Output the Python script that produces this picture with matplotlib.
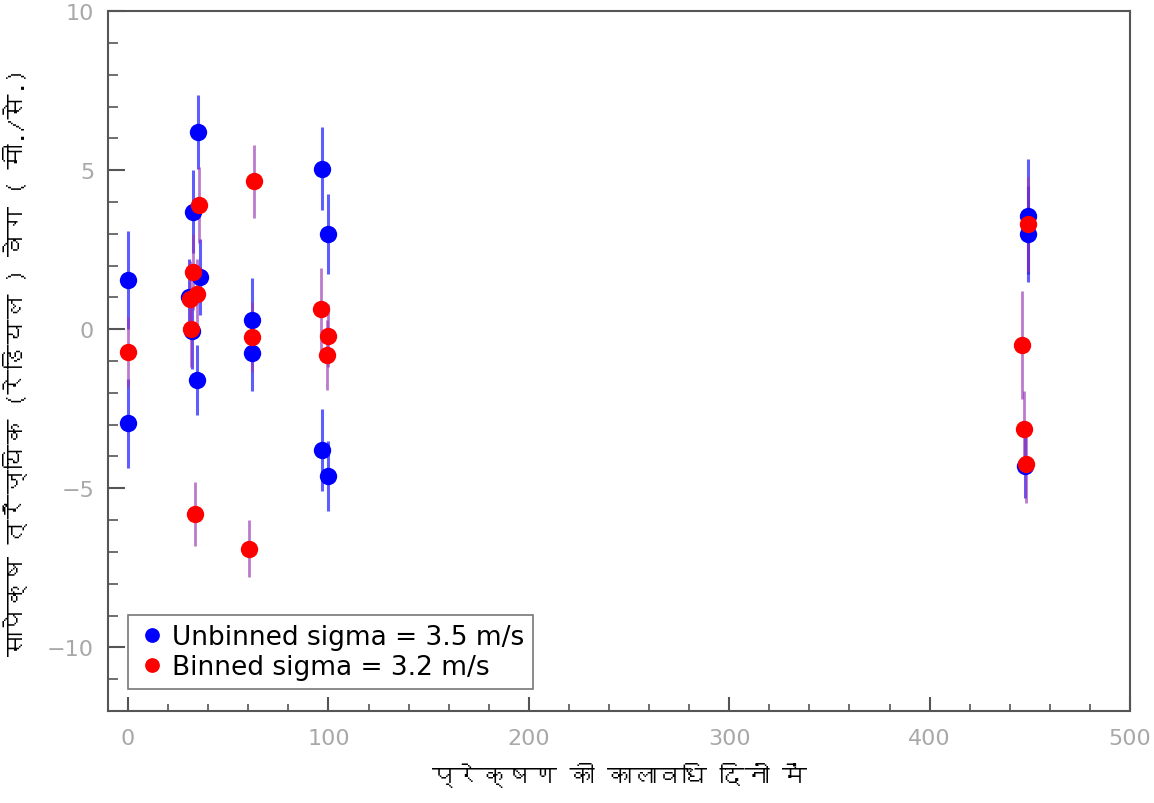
import numpy as np
import matplotlib
matplotlib.use('Agg')
from matplotlib import pyplot as plt
from matplotlib import font_manager
from matplotlib.ft2font import FT2Font

# Datos: sin agrupar (azul)
x_unbinned = [0, 0, 35, 32.5, 36, 30.5, 32, 34.5, 62, 62, 97, 100, 97, 100, 449, 449, 447.5]
y_unbinned = [1.55, -2.95, 6.2, 3.7, 1.65, 1.0, -0.05, -1.6, 0.3, -0.75, 5.05, 3.0, -3.8, -4.6, 3.55, 3.0, -4.3]
e_unbinned = [1.55, 1.4, 1.15, 1.3, 1.2, 1.2, 1.2, 1.1, 1.3, 1.2, 1.3, 1.25, 1.3, 1.1, 1.8, 1.5, 1.0]

# Datos agrupados (rojo)
x_binned = [0, 32.5, 31, 34.5, 31.5, 35.5, 33.5, 63, 62, 60.5, 96.5, 100, 99.5, 446, 447, 448, 449]
y_binned = [-0.72, 1.8, 0.95, 1.1, 0.0, 3.9, -5.8, 4.65, -0.25, -6.9, 0.62, -0.2, -0.8, -0.5, -3.15, -4.25, 3.3]
e_binned = [1.1, 1.2, 1.2, 1.1, 1.2, 1.2, 1.0, 1.15, 1.1, 0.9, 1.3, 1.0, 1.1, 1.7, 1.2, 1.2, 1.5]

label_unbinned = 'Unbinned sigma = 3.5 m/s'
label_binned = 'Binned sigma = 3.2 m/s'
xlabel = 'प्रेक्षण की कालावधि दिनों में'
ylabel = 'सापेक्ष त्रैज्यिक (रेडियल ) वेग ( मी./से.)'

# Buscar una fuente con devanagari
deva_fonts = []
for f in font_manager.fontManager.ttflist:
    try:
        if 0x0915 in FT2Font(f.fname).get_charmap():
            deva_fonts.append(f.name)
    except Exception:
        pass
label_family = list(dict.fromkeys(deva_fonts)) + ['DejaVu Sans']

plt.rcParams['font.family'] = ['DejaVu Sans']

fig = plt.figure(figsize=(11.54, 8.04), dpi=100)
ax = fig.add_axes([0.0936, 0.1144, 0.8856, 0.8706])

ax.errorbar(x_unbinned, y_unbinned, yerr=e_unbinned, fmt='none',
            ecolor=(0.1, 0.1, 1.0, 0.7), elinewidth=2.2, capsize=0, zorder=2)
ax.errorbar(x_binned, y_binned, yerr=e_binned, fmt='none',
            ecolor=(0.6, 0.2, 0.7, 0.65), elinewidth=2.0, capsize=0, zorder=3)
ax.plot(x_unbinned, y_unbinned, 'o', color='#0000ff', ms=12.5, mec='none',
        label=label_unbinned, zorder=4)
ax.plot(x_binned, y_binned, 'o', color='#ff0000', ms=12.5, mec='none',
        label=label_binned, zorder=5)

ax.set_xlim(-10, 500)
ax.set_ylim(-12, 10)
ax.set_xticks(np.arange(0, 501, 100))
ax.set_xticks(np.arange(0, 501, 20), minor=True)
ax.set_yticks(np.arange(-10, 11, 5))
ax.set_yticks(np.arange(-12, 11, 1), minor=True)

ax.tick_params(which='both', direction='in', top=False, right=False,
               colors='#555555', labelcolor='#a8a8a8', labelsize=16)
ax.tick_params(axis='y', which='major', length=12, width=1.5)
ax.tick_params(axis='y', which='minor', length=7, width=1.2)
ax.tick_params(axis='x', which='major', length=10, width=1.5)
ax.tick_params(axis='x', which='minor', length=5, width=1.2)
ax.tick_params(axis='x', pad=12)
ax.tick_params(axis='y', pad=10)
for s in ax.spines.values():
    s.set_color('#555555')
    s.set_linewidth(1.5)

ax.set_xlabel(xlabel, fontsize=18, family=label_family, labelpad=10)
ax.set_ylabel(ylabel, fontsize=18, family=label_family, labelpad=14)

leg = ax.legend(loc='lower left', bbox_to_anchor=(0.0196, 0.031), borderaxespad=0,
                fontsize=19, frameon=True, fancybox=False, edgecolor='#555555',
                handletextpad=0.2, handlelength=1.1, borderpad=0.35,
                labelspacing=0.15, markerscale=0.85)
leg.get_frame().set_linewidth(1.2)

plt.savefig('out.png', dpi=100)
